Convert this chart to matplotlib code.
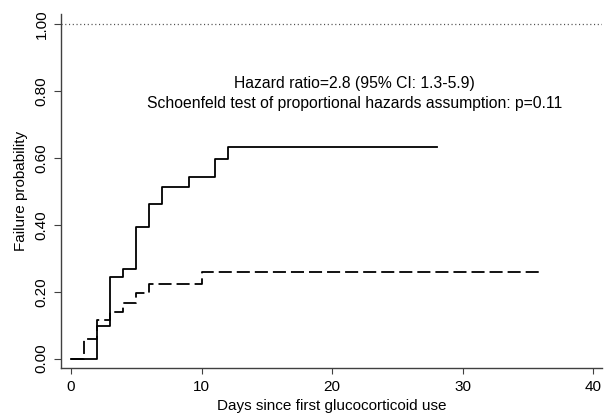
import matplotlib
matplotlib.use("Agg")
import matplotlib.pyplot as plt

plt.rcParams['font.family'] = ['Liberation Sans', 'DejaVu Sans']
plt.rcParams['lines.scale_dashes'] = False

# (days, cumulative failure probability)
solid_days = [0, 2, 3, 4, 5, 6, 7, 9, 11, 12, 28]
solid_fail = [0.0, 0.099, 0.245, 0.269, 0.392, 0.463, 0.514, 0.542, 0.596, 0.632, 0.632]
dashed_days = [0, 1, 2, 3, 4, 5, 6, 10, 36]
dashed_fail = [0.0, 0.059, 0.114, 0.139, 0.166, 0.196, 0.224, 0.259, 0.259]

x_ticks = [0, 10, 20, 30, 40]
y_ticks = [0.0, 0.2, 0.4, 0.6, 0.8, 1.0]
y_labels = ['0.00', '0.20', '0.40', '0.60', '0.80', '1.00']

note1 = 'Hazard ratio=2.8 (95% CI: 1.3-5.9)'
note2 = 'Schoenfeld test of proportional hazards assumption: p=0.11'

fig = plt.figure(figsize=(6.04, 4.17), dpi=100)
ax = fig.add_axes([61/604, 1 - 368/417, (602 - 61)/604, (368 - 14)/417])

ax.axhline(1.0, color='0.3', lw=0.9, ls=(0, (0.8, 1.9)))
ax.step(solid_days, solid_fail, where='post', color='black', lw=1.3)
ax.step(dashed_days, dashed_fail, where='post', color='black', lw=1.3,
        ls=(0, (9.4, 3.6)))

ax.set_xlim(-0.77, 40.66)
ax.set_ylim(-0.028, 1.03)
ax.set_xticks(x_ticks)
ax.set_yticks(y_ticks)
ax.set_yticklabels(y_labels)

for s in ['top', 'right']:
    ax.spines[s].set_visible(False)
for s in ['left', 'bottom']:
    ax.spines[s].set_color('0.25')
    ax.spines[s].set_linewidth(1.0)

ax.tick_params(axis='x', length=4.5, width=0.8, color='0.25', pad=4, labelsize=11)
ax.tick_params(axis='y', length=4.8, width=0.8, color='0.25', pad=4, labelsize=11,
               labelrotation=90)
for lab in ax.get_yticklabels():
    lab.set_va('center')

ax.set_xlabel('Days since first glucocorticoid use', fontsize=11, labelpad=4)
ax.set_ylabel('Failure probability', fontsize=11, labelpad=5)

ax.text(21.7, 0.821, note1, ha='center', va='center', fontsize=11.3)
ax.text(21.7, 0.764, note2, ha='center', va='center', fontsize=11.3)

fig.savefig('out.png', dpi=100)
